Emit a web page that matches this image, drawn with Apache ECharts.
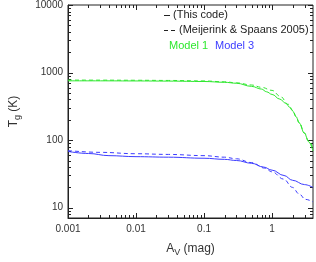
<!DOCTYPE html>
<html><head><meta charset="utf-8">
<script src="https://cdn.jsdelivr.net/npm/echarts@6/dist/echarts.min.js"></script>
<style>html,body{margin:0;padding:0;background:#fff}#c{width:316px;height:262px}</style>
</head><body><div id="c"></div>
<script>
// ---- data ----
var m1CodeAv   = [0.001, 0.003, 0.01, 0.03, 0.1, 0.2, 0.3, 0.5, 0.7, 0.83, 1.0, 1.3, 1.6, 1.82, 2.0, 2.26, 2.5, 3.0, 3.44, 4.0];
var m1CodeTg   = [755, 755, 752, 748, 738, 718, 695, 625, 570, 520, 475, 405, 350, 306, 272, 222, 180, 126, 95, 69];
var m1MSAv     = [0.001, 0.003, 0.01, 0.03, 0.1, 0.2, 0.3, 0.5, 0.7, 1.0, 1.33, 1.73, 2.03, 2.26, 2.5, 3.0, 3.44, 4.0];
var m1MSTg     = [775, 773, 770, 765, 752, 730, 705, 655, 605, 545, 443, 339, 274, 223, 183, 128, 98, 75];
var m3CodeAv   = [0.001, 0.002, 0.004, 0.01, 0.03, 0.1, 0.2, 0.3, 0.5, 0.75, 1.0, 1.5, 2.0, 3.0, 4.0];
var m3CodeTg   = [68, 63.5, 59, 57, 56, 54, 52, 50, 45.5, 40, 36, 30, 25.5, 22, 20];
var m3MSAv     = [0.001, 0.003, 0.01, 0.03, 0.1, 0.2, 0.3, 0.5, 0.78, 1.0, 1.48, 2.0, 2.5, 3.1, 4.0];
var m3MSTg     = [70, 66, 63, 61.5, 59, 56, 53, 46.5, 38.6, 34, 26.5, 20, 16, 13.3, 12.2];
var xMajorTicks = [0.001, 0.01, 0.1, 1];
var yMajorTicks = [10, 100, 1000, 10000];
var xMin = 0.001, xMax = 4, yMin = 7.05, yMax = 10000;
var legendLines = ['(This code)', '(Meijerink & Spaans 2005)'];
var modelLabels = ['Model 1', 'Model 3'];

var GREEN = '#2ee82e', BLUE = '#3c3cff', AXIS = '#222';

function pairs(xs, ys) { return xs.map(function (x, i) { return [x, ys[i]]; }); }
function minorTicks(lo, hi) {
  var out = [];
  for (var e = -4; e <= 4; e++) {
    for (var k = 2; k <= 9; k++) {
      var v = k * Math.pow(10, e);
      if (v > lo * 1.0001 && v < hi * 0.9999) out.push(v);
    }
  }
  return out;
}
function isDecade(v) { var l = Math.log10(v); return Math.abs(l - Math.round(l)) < 1e-6; }

var xTickData = xMajorTicks.map(function (v) { return [v, 100, 1]; })
  .concat(minorTicks(xMin, xMax).map(function (v) { return [v, 100, 0]; }));
var yTickData = yMajorTicks.map(function (v) { return [0.01, v, 1]; })
  .concat(minorTicks(yMin, yMax).map(function (v) { return [0.01, v, 0]; }));

function tickX(params, api) {
  var v = api.value(0), len = api.value(2) ? 5 : 3;
  var b = api.coord([v, yMin]), t = api.coord([v, yMax]);
  var x = Math.round(b[0]) + 0.5;
  return { type: 'group', children: [
    { type: 'line', shape: { x1: x, y1: b[1], x2: x, y2: b[1] - len }, style: { stroke: AXIS, lineWidth: 1 } },
    { type: 'line', shape: { x1: x, y1: t[1], x2: x, y2: t[1] + len }, style: { stroke: AXIS, lineWidth: 1 } }
  ]};
}
function tickY(params, api) {
  var v = api.value(1), len = api.value(2) ? 5 : 3;
  var l = api.coord([xMin, v]), r = api.coord([xMax, v]);
  var y = Math.round(l[1]) + 0.5;
  return { type: 'group', children: [
    { type: 'line', shape: { x1: l[0], y1: y, x2: l[0] + len, y2: y }, style: { stroke: AXIS, lineWidth: 1 } },
    { type: 'line', shape: { x1: r[0], y1: y, x2: r[0] - len, y2: y }, style: { stroke: AXIS, lineWidth: 1 } }
  ]};
}

var chart = echarts.init(document.getElementById('c'), null, { renderer: 'canvas' });
var font = 'Liberation Sans';
chart.setOption({
  animation: false,
  backgroundColor: '#fff',
  textStyle: { fontFamily: font },
  grid: { left: 53, top: 4, width: 262, height: 228, show: true, borderColor: AXIS, borderWidth: 1, backgroundColor: 'transparent' },
  xAxis: {
    type: 'log', logBase: 10, min: xMin, max: xMax,
    axisLine: { show: true, lineStyle: { color: AXIS } },
    axisTick: { show: false }, splitLine: { show: false },
    axisLabel: { color: '#333', fontSize: 10, fontFamily: font, margin: 6,
      formatter: function (v) { return isDecade(v) ? String(v) : ''; } },
    name: '{a|A}{s|V}{a| (mag)}', nameLocation: 'middle', nameGap: 23,
    nameTextStyle: { rich: {
      a: { fontSize: 12, fontFamily: font, color: '#333' },
      s: { fontSize: 9, fontFamily: font, color: '#333', padding: [7, 0, 0, 0] } } }
  },
  yAxis: {
    type: 'log', logBase: 10, min: yMin, max: yMax,
    axisLine: { show: true, lineStyle: { color: AXIS } },
    axisTick: { show: false }, splitLine: { show: false },
    axisLabel: { color: '#333', fontSize: 10, fontFamily: font, margin: 5,
      formatter: function (v) { return isDecade(v) ? String(Math.round(v)) : ''; } },
    name: '{a|T}{s|g}{a| (K)}', nameLocation: 'middle', nameGap: 46, nameRotate: 90,
    nameTextStyle: { rich: {
      a: { fontSize: 12, fontFamily: font, color: '#333' },
      s: { fontSize: 9, fontFamily: font, color: '#333', padding: [7, 0, 0, 0] } } }
  },
  series: [
    { type: 'line', data: pairs(m1CodeAv, m1CodeTg), smooth: 0.4, smoothMonotone: 'x', showSymbol: false,
      lineStyle: { color: GREEN, width: 1 } },
    { type: 'line', data: pairs(m1MSAv, m1MSTg), smooth: 0.4, smoothMonotone: 'x', showSymbol: false,
      lineStyle: { color: GREEN, width: 1, type: [4, 3] } },
    { type: 'line', data: pairs(m3CodeAv, m3CodeTg), smooth: 0.4, smoothMonotone: 'x', showSymbol: false,
      lineStyle: { color: BLUE, width: 1 } },
    { type: 'line', data: pairs(m3MSAv, m3MSTg), smooth: 0.4, smoothMonotone: 'x', showSymbol: false,
      lineStyle: { color: BLUE, width: 1, type: [4, 3] } },
    { type: 'custom', data: xTickData, renderItem: tickX, silent: true, clip: false },
    { type: 'custom', data: yTickData, renderItem: tickY, silent: true, clip: false }
  ],
  graphic: [
    { type: 'line', shape: { x1: 164, y1: 15.5, x2: 170, y2: 15.5 }, style: { stroke: '#222', lineWidth: 1 } },
    { type: 'text', left: 173, top: 9.5, style: { text: legendLines[0], font: '11px ' + font, fill: '#222' } },
    { type: 'line', shape: { x1: 164, y1: 30.5, x2: 168, y2: 30.5 }, style: { stroke: '#222', lineWidth: 1 } },
    { type: 'line', shape: { x1: 171, y1: 30.5, x2: 175, y2: 30.5 }, style: { stroke: '#222', lineWidth: 1 } },
    { type: 'text', left: 179, top: 24.5, style: { text: legendLines[1], font: '11px ' + font, fill: '#222' } },
    { type: 'text', left: 169, top: 40.5, style: { text: modelLabels[0], font: '11px ' + font, fill: GREEN } },
    { type: 'text', left: 215, top: 40.5, style: { text: modelLabels[1], font: '11px ' + font, fill: BLUE } }
  ]
});
</script></body></html>
